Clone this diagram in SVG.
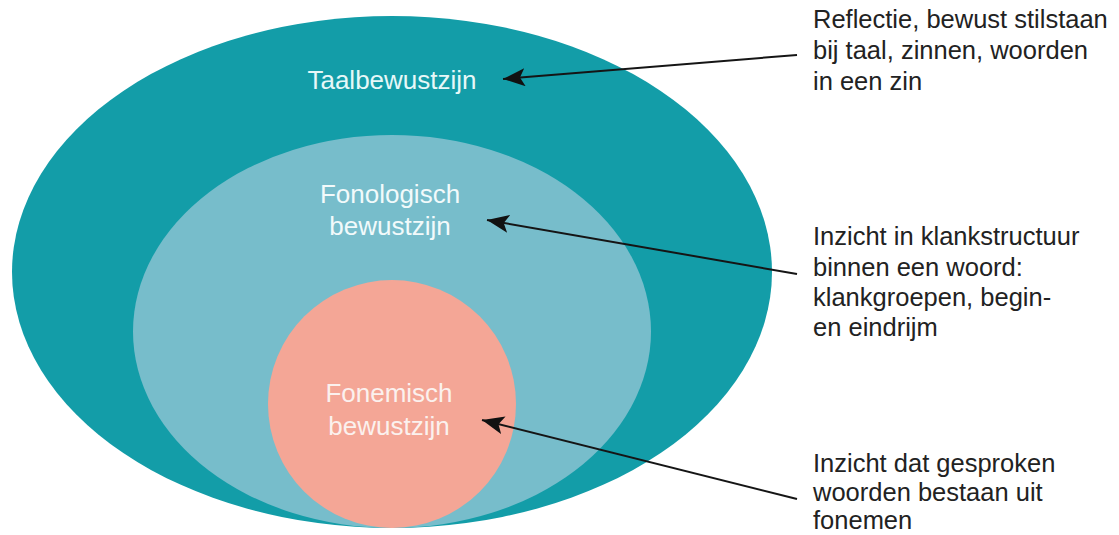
<svg xmlns="http://www.w3.org/2000/svg" width="1119" height="535" viewBox="0 0 1119 535">
  <style>
    .lbl { font-family: "Liberation Sans", Arial, sans-serif; font-size: 26px; text-anchor: middle; }
    .note { font-family: "Liberation Sans", Arial, sans-serif; font-size: 25.5px; fill: #222222; }
    .conn { stroke: #151515; stroke-width: 2; fill: none; marker-end: url(#arrow); }
  </style>
  <defs>
    <marker id="arrow" markerUnits="userSpaceOnUse" markerWidth="24" markerHeight="20" refX="22" refY="9" orient="auto">
      <path d="M0,0 L22,9 L0,18 L5,9 Z" fill="#111111"/>
    </marker>
  </defs>
  <rect width="1119" height="535" fill="#ffffff"/>
  <g id="taalbewustzijn">
    <ellipse cx="392" cy="272" rx="380" ry="256" fill="#139DA8"/>
    <text class="lbl" x="392" y="89" fill="#E6F8F8">Taalbewustzijn</text>
  </g>
  <g id="fonologisch">
    <ellipse cx="392" cy="331.5" rx="259" ry="196.5" fill="#77BDCB"/>
    <text class="lbl" x="390" fill="#F2FAFB"><tspan x="390" y="203">Fonologisch</tspan><tspan x="390" y="235">bewustzijn</tspan></text>
  </g>
  <g id="fonemisch">
    <circle cx="392" cy="404" r="124" fill="#F4A696"/>
    <text class="lbl" x="389" fill="#FBF1EE"><tspan x="389" y="402">Fonemisch</tspan><tspan x="389" y="435">bewustzijn</tspan></text>
  </g>
  <g id="connectors">
    <line class="conn" x1="797" y1="55" x2="503" y2="79"/>
    <line class="conn" x1="797" y1="274" x2="487" y2="220"/>
    <line class="conn" x1="797" y1="499" x2="482" y2="420"/>
  </g>
  <g id="note-taal">
    <text class="note"><tspan x="813" y="28">Reflectie, bewust stilstaan</tspan><tspan x="813" y="59">bij taal, zinnen, woorden</tspan><tspan x="813" y="90">in een zin</tspan></text>
  </g>
  <g id="note-fonologisch">
    <text class="note"><tspan x="813" y="245">Inzicht in klankstructuur</tspan><tspan x="813" y="275.5">binnen een woord:</tspan><tspan x="813" y="306">klankgroepen, begin-</tspan><tspan x="813" y="336">en eindrijm</tspan></text>
  </g>
  <g id="note-fonemisch">
    <text class="note"><tspan x="813" y="472">Inzicht dat gesproken</tspan><tspan x="813" y="501">woorden bestaan uit</tspan><tspan x="813" y="529">fonemen</tspan></text>
  </g>
</svg>
